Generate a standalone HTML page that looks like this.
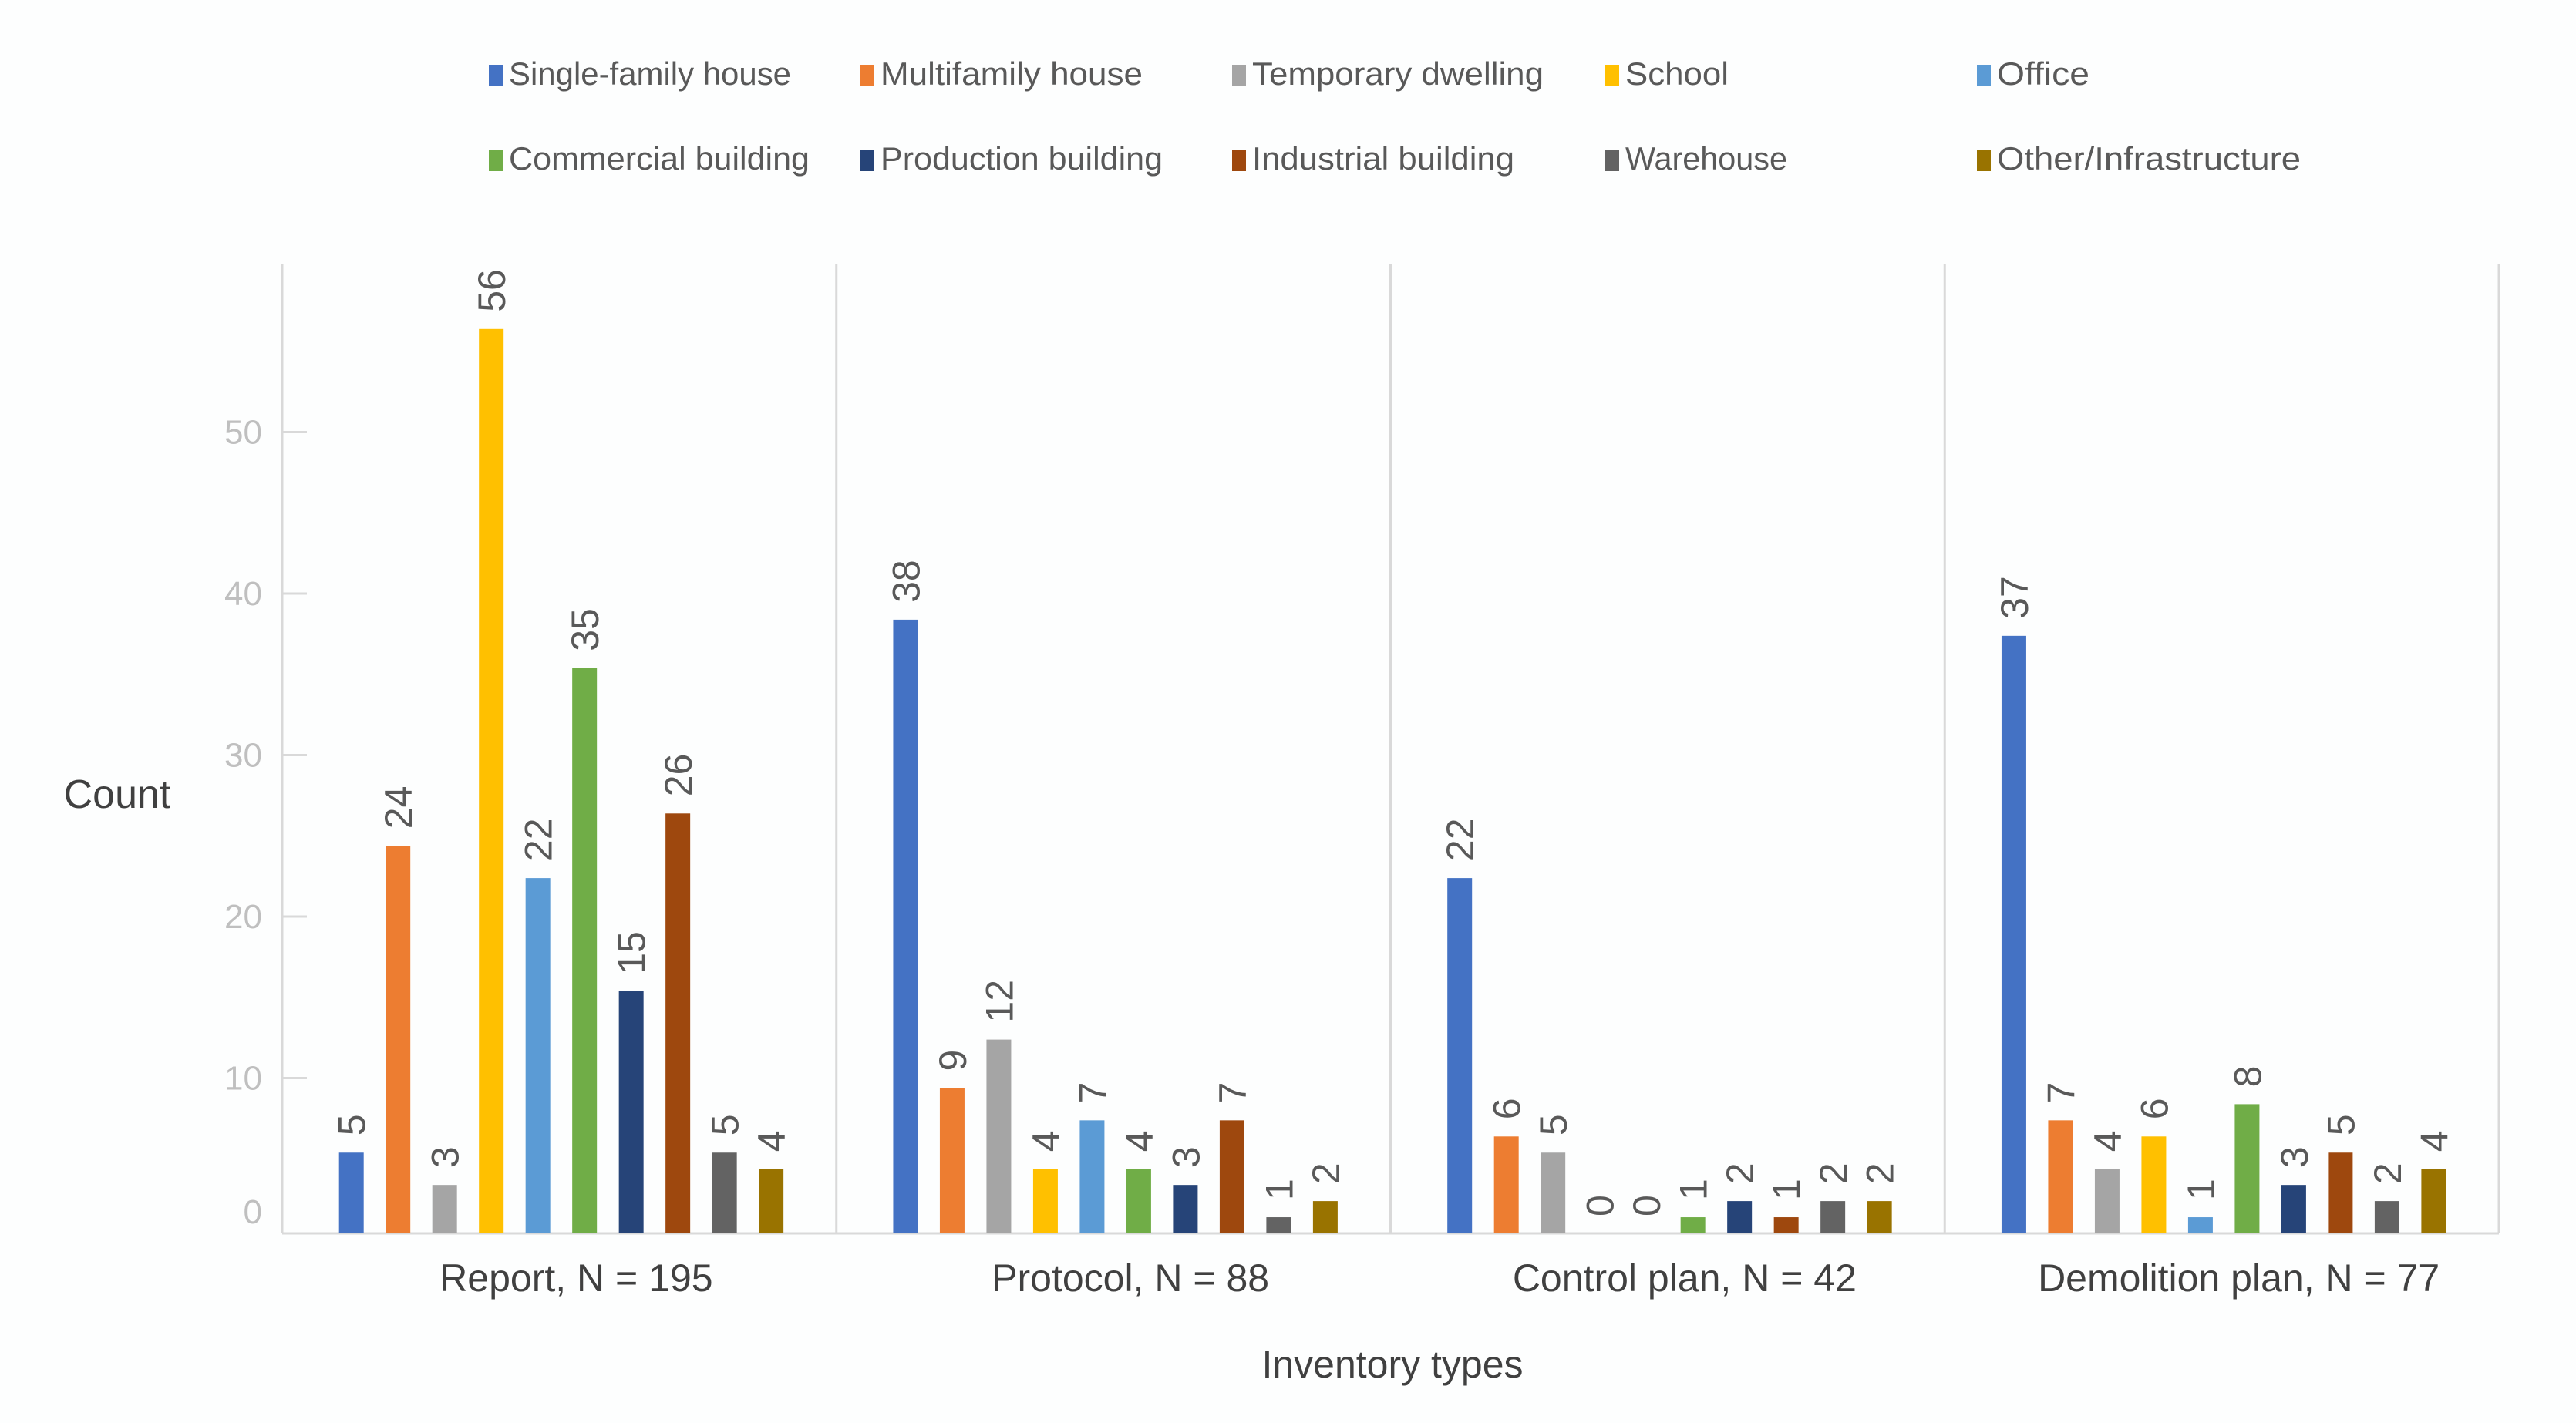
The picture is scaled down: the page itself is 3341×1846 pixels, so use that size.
<!DOCTYPE html>
<html><head><meta charset="utf-8"><style>
html,body{margin:0;padding:0;background:#fff;}
svg{display:block;font-family:"Liberation Sans",sans-serif;}
</style></head><body>
<svg id="chart" width="3341" height="1846" viewBox="0 0 3341 1846">
<rect width="3341" height="1846" fill="#fdfefe"/>
<g id="legend"></g>
<g id="grid"></g>
<g id="bars"></g>
<text x="152" y="1048" font-size="52" fill="#404040" text-anchor="middle">Count</text>
<text x="1806" y="1787" font-size="50" fill="#404040" text-anchor="middle">Inventory types</text>
</svg>
<script>
const categories = ["Report, N = 195","Protocol, N = 88","Control plan, N = 42","Demolition plan, N = 77"];
const seriesNames = ["Single-family house","Multifamily house","Temporary dwelling","School","Office","Commercial building","Production building","Industrial building","Warehouse","Other/Infrastructure"];
const reportValues = [5,24,3,56,22,35,15,26,5,4];
const protocolValues = [38,9,12,4,7,4,3,7,1,2];
const controlValues = [22,6,5,0,0,1,2,1,2,2];
const demolitionValues = [37,7,4,6,1,8,3,5,2,4];
const yTicks = [0,10,20,30,40,50];
const groups = [reportValues, protocolValues, controlValues, demolitionValues];
const colors = ["#4472c4","#ed7d31","#a5a5a5","#ffc000","#5b9bd5","#70ad47","#264478","#9e480e","#636363","#997300"];

const NS="http://www.w3.org/2000/svg";
function mk(tag, attrs, parent){const e=document.createElementNS(NS,tag);for(const k in attrs)e.setAttribute(k,attrs[k]);parent.appendChild(e);return e;}
const x0=366, x1=3241, base=1600, unit=20.95, plotTop=343;
const gw=(x1-x0)/categories.length;
const yScale = v => base - v*unit;
const grid=document.getElementById('grid');
const barsG=document.getElementById('bars');
const legend=document.getElementById('legend');

let l=mk('line',{x1:x0,y1:plotTop,x2:x0,y2:base,stroke:"#d9d9d9","stroke-width":3},grid);


l=mk('line',{x1:x0,y1:base,x2:x1,y2:base,stroke:"#d9d9d9","stroke-width":3},grid);


for(let g=1;g<=categories.length;g++){
  const s=mk('line',{x1:x0+g*gw,y1:plotTop,x2:x0+g*gw,y2:base,stroke:"#d9d9d9","stroke-width":3},grid);
  
  
}
yTicks.forEach(t=>{
  const ty = t===0 ? base-28 : yScale(t)+8;
  if(t!==0){
    const tk=mk('line',{x1:x0,y1:ty,x2:x0+32,y2:ty,stroke:"#d9d9d9","stroke-width":3},grid);
    
    
  }
  const tl=mk('text',{x:x0-26,y:ty+15,"font-size":44,fill:"#bfbfbf","text-anchor":"end"},grid);
  tl.textContent=t;
  
  
});

const pitch=gw/12*1.01, bw=32;
groups.forEach((vals,g)=>{
  const gs=x0+g*gw;
  const cl=mk('text',{x:gs+gw/2+22,y:1675,"font-size":50,fill:"#404040","text-anchor":"middle"},grid);
  cl.textContent=categories[g];
  
  
  vals.forEach((v,i)=>{
    const cx=gs+5+(i+1.4)*pitch;
    const h=v*unit;
    const r=mk('rect',{x:cx-bw/2,y:base-h,width:bw,height:Math.max(h,0),fill:colors[i]},barsG);
    
    
    const t=mk('text',{x:0,y:0,"font-size":50,fill:"#595959",transform:`translate(${cx+18},${base-h-22}) rotate(-90)`},barsG);
    t.textContent=v;
    
    
  });
});

const lx=[634,1116,1598,2082,2564], ly=[96,206], lw=[392,366,404,160,146,416,392,366,236,420];
seriesNames.forEach((n,i)=>{
  const x=lx[i%5], yy=ly[Math.floor(i/5)];
  const sq=mk('rect',{x:x,y:yy-12,width:18,height:28,fill:colors[i]},legend);
  
  
  const t=mk('text',{x:x+26,y:yy+14,"font-size":42,fill:"#595959",textLength:lw[i]-26,lengthAdjust:"spacingAndGlyphs"},legend);
  t.textContent=n;
  
  
});
</script>
</body></html>
